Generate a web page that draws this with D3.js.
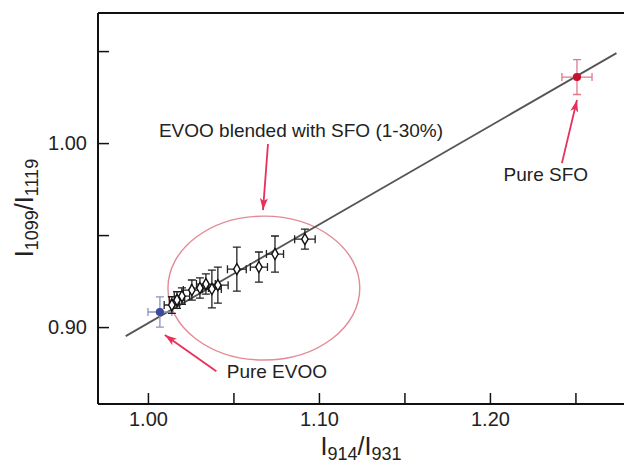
<!DOCTYPE html>
<html>
<head>
<meta charset="utf-8">
<script src="https://cdnjs.cloudflare.com/ajax/libs/d3/7.8.5/d3.min.js"></script>
<style>
  body { margin: 0; background: #fff; }
  text { font-family: "Liberation Sans", Arial, sans-serif; fill: #222; }
</style>
</head>
<body>
<script>
// measured ratios, I914/I931 (x) vs I1099/I1119 (y)
const ptX  = [1.0070, 1.0140, 1.0170, 1.0199, 1.0257, 1.0304, 1.0339, 1.0374, 1.0409, 1.0520, 1.0649, 1.0743, 1.0918, 1.2509];
const ptY  = [0.9082, 0.9120, 0.9147, 0.9168, 0.9201, 0.9212, 0.9234, 0.9207, 0.9228, 0.9315, 0.9326, 0.9397, 0.9478, 1.0359];
const errX = [0.0070, 0.0045, 0.0045, 0.0045, 0.0050, 0.0050, 0.0055, 0.0055, 0.0060, 0.0055, 0.0050, 0.0050, 0.0060, 0.0088];
const errY = [0.0082, 0.0045, 0.0045, 0.0045, 0.0055, 0.0055, 0.0055, 0.0103, 0.0098, 0.0120, 0.0082, 0.0098, 0.0054, 0.0095];
const ptKind = ['evoo', 'blend', 'blend', 'blend', 'blend', 'blend', 'blend', 'blend', 'blend', 'blend', 'blend', 'blend', 'blend', 'sfo'];

// regression line end points
const fitX = [0.987, 1.274];
const fitY = [0.8951, 1.0489];

const xTicks = [1.00, 1.05, 1.10, 1.15, 1.20, 1.25];
const xLabels = [1.00, 1.10, 1.20];
const yTicks = [0.90, 0.95, 1.00, 1.05];
const yLabels = [0.90, 1.00];

// ellipse round the blends: centre and radii in data units
const ellC = [1.0678, 0.9212];
const ellR = [0.0561, 0.0391];

const noteText = ['EVOO blended with SFO (1-30%)', 'Pure SFO', 'Pure EVOO'];
const noteX = [1.0895, 1.2327, 1.0754];
const noteY = [1.0033, 0.9793, 0.8723];
const arrowFrom = [[1.0702, 0.9995], [1.2421, 0.9891], [1.0400, 0.8760]];
const arrowTo   = [[1.0673, 0.9636], [1.2509, 1.0234], [1.0099, 0.8957]];

const W = 624, H = 467;
const margin = {top: 13, right: 0, bottom: 63, left: 98};

const svg = d3.select('body').append('svg')
  .attr('width', W)
  .attr('height', H);

const x = d3.scaleLinear().domain([0.9708, 1.2784]).range([margin.left, W - margin.right]);
const y = d3.scaleLinear().domain([0.8582, 1.0707]).range([H - margin.bottom, margin.top]);

const colors = {evoo: '#3d4a9c', blend: '#111', sfo: '#c8102e'};
const barColors = {evoo: '#8a93c8', blend: '#222', sfo: '#e0788a'};

svg.append('defs').append('marker')
  .attr('id', 'head')
  .attr('viewBox', '0 0 12 8')
  .attr('refX', 12)
  .attr('refY', 4)
  .attr('markerWidth', 12)
  .attr('markerHeight', 8)
  .attr('markerUnits', 'userSpaceOnUse')
  .attr('orient', 'auto')
  .append('path')
  .attr('d', 'M0,0 L12,4 L0,8 L3,4 Z')
  .attr('fill', '#e8305a');

// frame: left, top and bottom only
const frame = svg.append('g').attr('stroke', '#111').attr('stroke-width', 2);
frame.append('line').attr('x1', x.range()[0]).attr('x2', x.range()[0]).attr('y1', y.range()[1]).attr('y2', y.range()[0]);
frame.append('line').attr('x1', x.range()[0]).attr('x2', x.range()[1]).attr('y1', y.range()[1]).attr('y2', y.range()[1]);
frame.append('line').attr('x1', x.range()[0]).attr('x2', x.range()[1]).attr('y1', y.range()[0]).attr('y2', y.range()[0]);

const xAxis = d3.axisBottom(x).tickValues(xTicks).tickSizeInner(-11).tickSizeOuter(0)
  .tickFormat(d => xLabels.some(v => Math.abs(v - d) < 1e-9) ? d3.format('.2f')(d) : '');
const gx = svg.append('g')
  .attr('transform', `translate(0,${y.range()[0]})`)
  .call(xAxis);
gx.select('.domain').remove();
gx.selectAll('line').attr('stroke', '#111').attr('stroke-width', 1.5);
gx.selectAll('text').attr('font-size', 20).attr('y', 22).attr('dy', 0).style('fill', '#222');

const yAxis = d3.axisLeft(y).tickValues(yTicks).tickSizeInner(-11).tickSizeOuter(0)
  .tickFormat(d => yLabels.some(v => Math.abs(v - d) < 1e-9) ? d3.format('.2f')(d) : '');
const gy = svg.append('g')
  .attr('transform', `translate(${x.range()[0]},0)`)
  .call(yAxis);
gy.select('.domain').remove();
gy.selectAll('line').attr('stroke', '#111').attr('stroke-width', 1.5);
gy.selectAll('text').attr('font-size', 20).attr('x', -11).style('fill', '#222');

// ellipse
svg.append('ellipse')
  .attr('cx', x(ellC[0]))
  .attr('cy', y(ellC[1]))
  .attr('rx', x(ellC[0] + ellR[0]) - x(ellC[0]))
  .attr('ry', y(ellC[1]) - y(ellC[1] + ellR[1]))
  .attr('fill', 'none')
  .attr('stroke', '#e38a95')
  .attr('stroke-width', 1.4);

// fit line
svg.append('line')
  .attr('x1', x(fitX[0])).attr('y1', y(fitY[0]))
  .attr('x2', x(fitX[1])).attr('y2', y(fitY[1]))
  .attr('stroke', '#555')
  .attr('stroke-width', 1.8);

const pts = ptX.map((d, i) => ({x: d, y: ptY[i], ex: errX[i], ey: errY[i], kind: ptKind[i]}));

const cap = 4;
const eb = svg.append('g').selectAll('g')
  .data(pts)
  .enter()
  .append('g')
  .attr('stroke', d => barColors[d.kind])
  .attr('stroke-width', 1.3)
  .attr('fill', 'none');

eb.append('path')
  .attr('d', d => {
    const cx = x(d.x), cy = y(d.y);
    const t = y(d.y + d.ey), b = y(d.y - d.ey);
    const l = x(d.x - d.ex), r = x(d.x + d.ex);
    return `M${cx},${t}V${b}M${cx - cap},${t}H${cx + cap}M${cx - cap},${b}H${cx + cap}` +
      `M${l},${cy}H${r}M${l},${cy - cap}V${cy + cap}M${r},${cy - cap}V${cy + cap}`;
  });

svg.append('g').selectAll('path')
  .data(pts)
  .enter()
  .append('path')
  .attr('transform', d => `translate(${x(d.x)},${y(d.y)})`)
  .attr('d', d => d3.symbol().type(d.kind === 'blend' ? d3.symbolDiamond : d3.symbolCircle).size(36)())
  .attr('fill', d => d.kind === 'blend' ? '#fff' : colors[d.kind])
  .attr('stroke', d => colors[d.kind])
  .attr('stroke-width', 1.4);

// annotations
svg.append('g').selectAll('line')
  .data(arrowFrom)
  .enter()
  .append('line')
  .attr('x1', d => x(d[0])).attr('y1', d => y(d[1]))
  .attr('x2', (d, i) => x(arrowTo[i][0])).attr('y2', (d, i) => y(arrowTo[i][1]))
  .attr('stroke', '#e8305a')
  .attr('stroke-width', 1.8)
  .attr('marker-end', 'url(#head)');

svg.append('g').selectAll('text')
  .data(noteText)
  .enter()
  .append('text')
  .attr('x', (d, i) => x(noteX[i]))
  .attr('y', (d, i) => y(noteY[i]))
  .attr('text-anchor', 'middle')
  .attr('font-size', 19)
  .text(d => d);

// axis titles with subscripts
const xt = svg.append('text')
  .attr('x', 361).attr('y', 455)
  .attr('text-anchor', 'middle')
  .attr('font-size', 25);
xt.append('tspan').text('I');
xt.append('tspan').attr('font-size', 18).attr('dy', 5).text('914');
xt.append('tspan').attr('dy', -5).text('/I');
xt.append('tspan').attr('font-size', 18).attr('dy', 5).text('931');

const yt = svg.append('text')
  .attr('transform', 'translate(33,208) rotate(-90)')
  .attr('text-anchor', 'middle')
  .attr('font-size', 25);
yt.append('tspan').text('I');
yt.append('tspan').attr('font-size', 18).attr('dy', 5).text('1099');
yt.append('tspan').attr('dy', -5).text('/I');
yt.append('tspan').attr('font-size', 18).attr('dy', 5).text('1119');
</script>
</body>
</html>
